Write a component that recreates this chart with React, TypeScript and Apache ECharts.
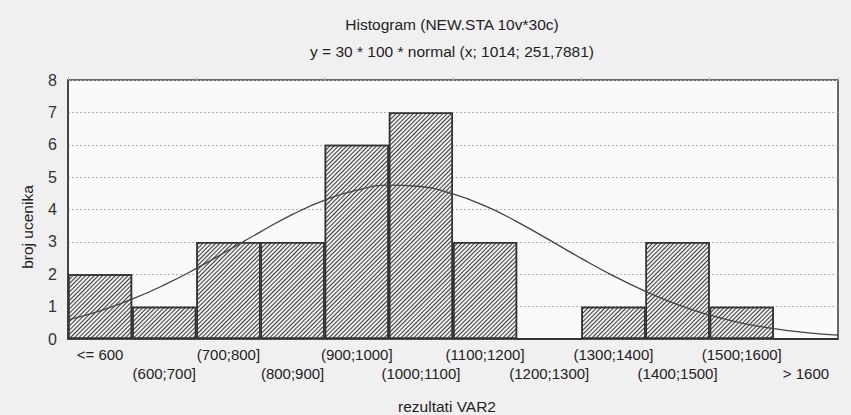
import React, { useEffect, useRef } from "react";
import * as echarts from "echarts";

const categories = [
  "<= 600", "(600;700]", "(700;800]", "(800;900]", "(900;1000]", "(1000;1100]",
  "(1100;1200]", "(1200;1300]", "(1300;1400]", "(1400;1500]", "(1500;1600]", "> 1600",
];
const counts = [2, 1, 3, 3, 6, 7, 3, 0, 1, 3, 1, 0];

// expected normal curve values (x in VAR2 units)
const curveX = [500, 550, 600, 650, 700, 750, 800, 850, 900, 950, 1000, 1050, 1100,
  1150, 1200, 1250, 1300, 1350, 1400, 1450, 1500, 1550, 1600, 1650, 1700];
const curveY = [0.59, 0.87, 1.23, 1.67, 2.18, 2.74, 3.31, 3.85, 4.29, 4.6, 4.75, 4.71, 4.48,
  4.11, 3.62, 3.06, 2.49, 1.95, 1.47, 1.06, 0.74, 0.49, 0.32, 0.2, 0.12];

const yTicks = [0, 8, 1];

export default function App() {
  const ref = useRef<HTMLDivElement>(null);
  useEffect(() => {
    if (!ref.current) return;
    const chart = echarts.init(ref.current, undefined, { renderer: "svg" });
    const font = "'Liberation Sans', Arial, sans-serif";
    chart.setOption({
      animation: false,
      backgroundColor: "#f0f0f0",
      title: {
        text: "Histogram (NEW.STA 10v*30c)\ny = 30 * 100 * normal (x; 1014; 251,7881)",
        left: 447,
        textAlign: "center",
        top: 6,
        textStyle: { fontFamily: font, fontSize: 15.5, fontWeight: "normal", color: "#222", lineHeight: 27 },
      },
      graphic: [
        {
          type: "text",
          x: 27,
          y: 227,
          rotation: Math.PI / 2,
          style: {
            text: "broj ucenika",
            align: "center",
            verticalAlign: "middle",
            fontFamily: font,
            fontSize: 15.5,
            fill: "#222",
          },
        },
        {
          type: "text",
          x: 447,
          y: 406,
          style: {
            text: "rezultati VAR2",
            align: "center",
            verticalAlign: "middle",
            fontFamily: font,
            fontSize: 15.5,
            fill: "#222",
          },
        },
      ],
      grid: {
        left: 68, top: 80, right: 13, bottom: 76,
        show: true, backgroundColor: "#fafafa", borderColor: "#3a3a3a", borderWidth: 1.5,
      },
      xAxis: [
        {
          type: "category",
          data: categories,
          boundaryGap: true,
          axisLine: { show: true, lineStyle: { color: "#3a3a3a", width: 1.5 } },
          axisTick: { show: false },
          axisLabel: {
            interval: 0,
            margin: 6,
            fontFamily: font,
            fontSize: 15,
            color: "#222",
            lineHeight: 19,
            formatter: (v: string, i: number) => (i % 2 === 1 ? "\n" + v : v),
          },
        },
        {
          type: "value",
          min: 500,
          max: 1700,
          show: false,
        },
        {
          type: "category",
          data: categories,
          position: "top",
          boundaryGap: true,
          axisLine: { show: false },
          axisLabel: { show: false },
          axisTick: { show: true, inside: false, length: 3, lineStyle: { color: "#bbb" } },
        },
      ],
      yAxis: {
        type: "value",
        min: yTicks[0],
        max: yTicks[1],
        interval: yTicks[2],
        axisLine: { show: true, lineStyle: { color: "#3a3a3a", width: 1.5 } },
        axisTick: { show: false },
        axisLabel: { fontFamily: font, fontSize: 16, color: "#333", margin: 11 },
        splitLine: { show: true, lineStyle: { color: "#b0b0b0", type: [2, 2], width: 1 } },
      },
      series: [
        {
          type: "bar",
          data: counts,
          barWidth: "100%",
          barCategoryGap: 0,
          itemStyle: {
            color: "#eeeeee",
            borderColor: "#333",
            borderWidth: 1.5,
            decal: {
              symbol: "rect",
              symbolSize: 1,
              dashArrayX: [1, 0],
              dashArrayY: [1, 1.8],
              rotation: -Math.PI / 4,
              color: "#3c3c3c",
              backgroundColor: "#f0f0f0",
            },
          },
        },
        {
          type: "line",
          xAxisIndex: 1,
          data: curveX.map((x, i) => [x, curveY[i]]),
          smooth: true,
          showSymbol: false,
          symbol: "none",
          lineStyle: { color: "#444", width: 1.3 },
          z: 5,
        },
      ],
    });
    return () => chart.dispose();
  }, []);
  return (
    <div
      ref={ref}
      style={{ position: "absolute", left: 0, top: 0, width: 851, height: 415 }}
    />
  );
}
